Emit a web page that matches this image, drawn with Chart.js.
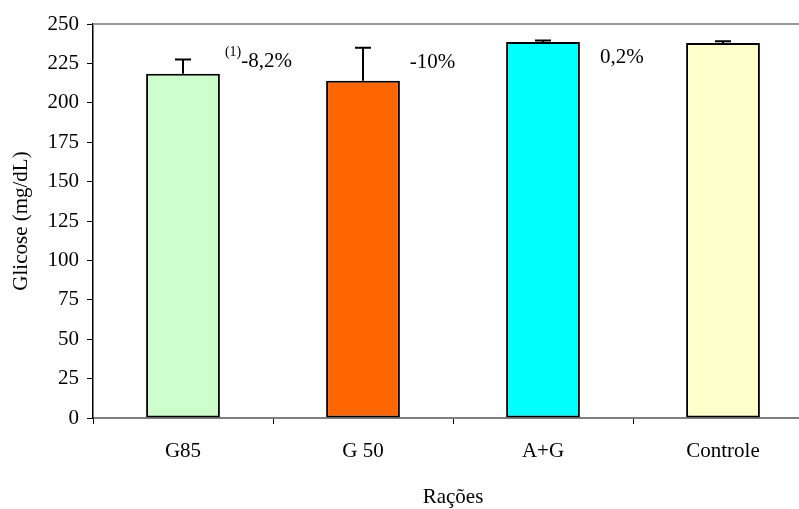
<!DOCTYPE html>
<html>
<head>
<meta charset="utf-8">
<script src="https://cdn.jsdelivr.net/npm/chart.js@4"></script>
<style>
  html, body { margin: 0; padding: 0; background: #fff; overflow: hidden; }
  #wrap { width: 830px; height: 509px; }
</style>
</head>
<body>
<div id="wrap"><canvas id="c" width="830" height="509"></canvas></div>
<script>
// ---- data ----
const categories = ["G85", "G 50", "A+G", "Controle"];
const glucose = [218.5, 214, 238.5, 238];
const errors = [9, 21, 1, 1];
const barColors = ["#CCFFCC", "#FF6600", "#00FFFF", "#FFFFCC"];
const yTicks = [0, 25, 50, 75, 100, 125, 150, 175, 200, 225, 250];
const notes = ["-8,2%", "-10%", "0,2%"];
const noteSup = ["(1)", "", ""];
const noteValue = [226, 225.5, 228.5];

const FONT = "'Liberation Serif', 'Times New Roman', serif";

const errorBarPlugin = {
  id: 'errorBars',
  afterDatasetsDraw(chart) {
    const ctx = chart.ctx;
    const meta = chart.getDatasetMeta(0);
    const y = chart.scales.y;
    ctx.save();
    ctx.strokeStyle = '#000';
    ctx.lineWidth = 2;
    meta.data.forEach((bar, i) => {
      const top = y.getPixelForValue(glucose[i]);
      const ePix = y.getPixelForValue(glucose[i] + errors[i]);
      ctx.beginPath();
      ctx.moveTo(bar.x, top);
      ctx.lineTo(bar.x, ePix);
      ctx.moveTo(bar.x - 8, ePix);
      ctx.lineTo(bar.x + 8, ePix);
      ctx.stroke();
    });
    ctx.restore();
  }
};

const framePlugin = {
  id: 'frame',
  afterDraw(chart) {
    const ctx = chart.ctx;
    const a = chart.chartArea;
    const x = chart.scales.x;
    const y = chart.scales.y;
    ctx.save();
    // top border line
    ctx.strokeStyle = '#999999';
    ctx.lineWidth = 2;
    ctx.beginPath();
    ctx.moveTo(a.left, a.top);
    ctx.lineTo(a.right, a.top);
    ctx.stroke();
    // annotations
    ctx.fillStyle = '#000';
    ctx.textBaseline = 'middle';
    const offs = [0.233, 0.26, 0.317];
    const cw = x.getPixelForValue(1) - x.getPixelForValue(0);
    notes.forEach((t, i) => {
      let px = x.getPixelForValue(i) + offs[i] * cw;
      const py = y.getPixelForValue(noteValue[i]);
      if (noteSup[i]) {
        ctx.font = '14px ' + FONT;
        ctx.textAlign = 'left';
        ctx.fillText(noteSup[i], px, py - 9);
        px += ctx.measureText(noteSup[i]).width;
      }
      ctx.font = '21px ' + FONT;
      ctx.textAlign = 'left';
      ctx.fillText(t, px, py);
    });
    ctx.restore();
  }
};

new Chart(document.getElementById('c'), {
  type: 'bar',
  data: {
    labels: categories,
    datasets: [{
      data: glucose,
      backgroundColor: barColors,
      borderColor: '#000',
      borderWidth: 2,
      borderSkipped: false,
      categoryPercentage: 0.82,
      barPercentage: 0.5
    }]
  },
  options: {
    responsive: false,
    devicePixelRatio: 1,
    animation: false,
    layout: { padding: { top: 24, right: 17, left: 0, bottom: 0 } },
    plugins: { legend: { display: false }, tooltip: { enabled: false } },
    scales: {
      x: {
        afterFit(s) { s.height = 91; },
        grid: { offset: true, drawOnChartArea: false, tickLength: 6, color: '#000', lineWidth: 1 },
        border: { color: '#808080', width: 2 },
        ticks: { color: '#000', font: { family: FONT, size: 21 }, padding: 15 },
        title: { display: true, text: 'Rações', color: '#000', font: { family: FONT, size: 21 }, padding: { top: 0, bottom: -1 } }
      },
      y: {
        min: 0, max: 250,
        afterFit(s) { s.width = 93; },
        afterBuildTicks(s) { s.ticks = yTicks.map(v => ({ value: v })); },
        grid: { drawOnChartArea: false, tickLength: 6, color: '#000', lineWidth: 1 },
        border: { color: '#000', width: 1.5 },
        ticks: { color: '#000', font: { family: FONT, size: 21 }, padding: 8 },
        title: { display: true, text: 'Glicose (mg/dL)', color: '#000', font: { family: FONT, size: 21 }, padding: { top: 9, bottom: 0 } }
      }
    }
  },
  plugins: [errorBarPlugin, framePlugin]
});
</script>
</body>
</html>
